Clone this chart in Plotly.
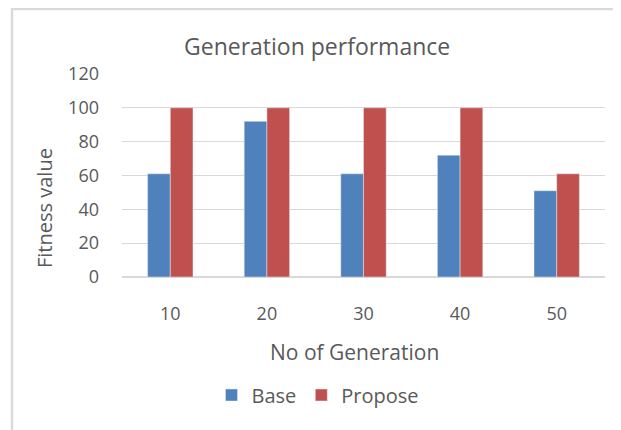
import plotly.graph_objects as go

categories = ["10", "20", "30", "40", "50"]
base_values = [61, 92, 61, 72, 51]
propose_values = [100, 100, 100, 100, 61]
y_ticks = [0, 20, 40, 60, 80, 100, 120]

OFF = 8  # page body margin of the html page
W, H = 621 - OFF, 430 - OFF
L, R, T, B = 122 - OFF, 605 - OFF, 74 - OFF, 277 - OFF  # plot area in figure pixels
pw, ph = R - L, B - T

def px_x(p):
    return (p - OFF - L) / pw

def px_y(p):
    return (B - (p - OFF)) / ph

FONT = "Open Sans"
TXT = "#595959"
GRID = "#d9d9d9"

fig = go.Figure()
fig.add_trace(go.Bar(x=categories, y=base_values, name="Base", marker_color="#4F81BD"))
fig.add_trace(go.Bar(x=categories, y=propose_values, name="Propose", marker_color="#C0504D"))

fig.update_layout(
    width=W, height=H,
    margin=dict(l=L, r=W - R, t=T, b=H - B),
    paper_bgcolor="white", plot_bgcolor="white",
    barmode="group", bargap=0.53, bargroupgap=0,
    font=dict(family=FONT, color=TXT, size=18),
    showlegend=True,
    legend=dict(orientation="h", x=px_x(318), y=px_y(395), xanchor="center", yanchor="middle",
                font=dict(size=20, color=TXT), itemwidth=30, traceorder="normal"),
    xaxis=dict(showgrid=False, showline=False, zeroline=False, ticks="",
               ticklabelstandoff=24, tickfont=dict(size=18, color=TXT)),
    yaxis=dict(range=[0, 120], tickvals=y_ticks, showgrid=True, gridcolor=GRID, gridwidth=1,
               zeroline=True, zerolinecolor=GRID, zerolinewidth=1.5, showline=False, ticks="",
               ticklabelstandoff=22, tickfont=dict(size=18, color=TXT)),
    annotations=[
        dict(text="Generation performance", x=px_x(317), y=px_y(46), xref="paper", yref="paper",
             showarrow=False, font=dict(size=23, color=TXT), xanchor="center", yanchor="middle"),
        dict(text="No of Generation", x=px_x(354), y=px_y(352), xref="paper", yref="paper",
             showarrow=False, font=dict(size=21, color=TXT), xanchor="center", yanchor="middle"),
        dict(text="Fitness value", x=px_x(44), y=px_y(208), xref="paper", yref="paper",
             showarrow=False, font=dict(size=20, color=TXT), textangle=-90,
             xanchor="center", yanchor="middle"),
    ],
    shapes=[
        dict(type="line", xref="paper", yref="paper", x0=px_x(11), x1=px_x(625), y0=px_y(9), y1=px_y(9),
             line=dict(color=GRID, width=2.5)),
        dict(type="line", xref="paper", yref="paper", x0=px_x(12), x1=px_x(12), y0=px_y(8), y1=px_y(435),
             line=dict(color=GRID, width=2.5)),
    ],
)

fig.write_html("out.html")
